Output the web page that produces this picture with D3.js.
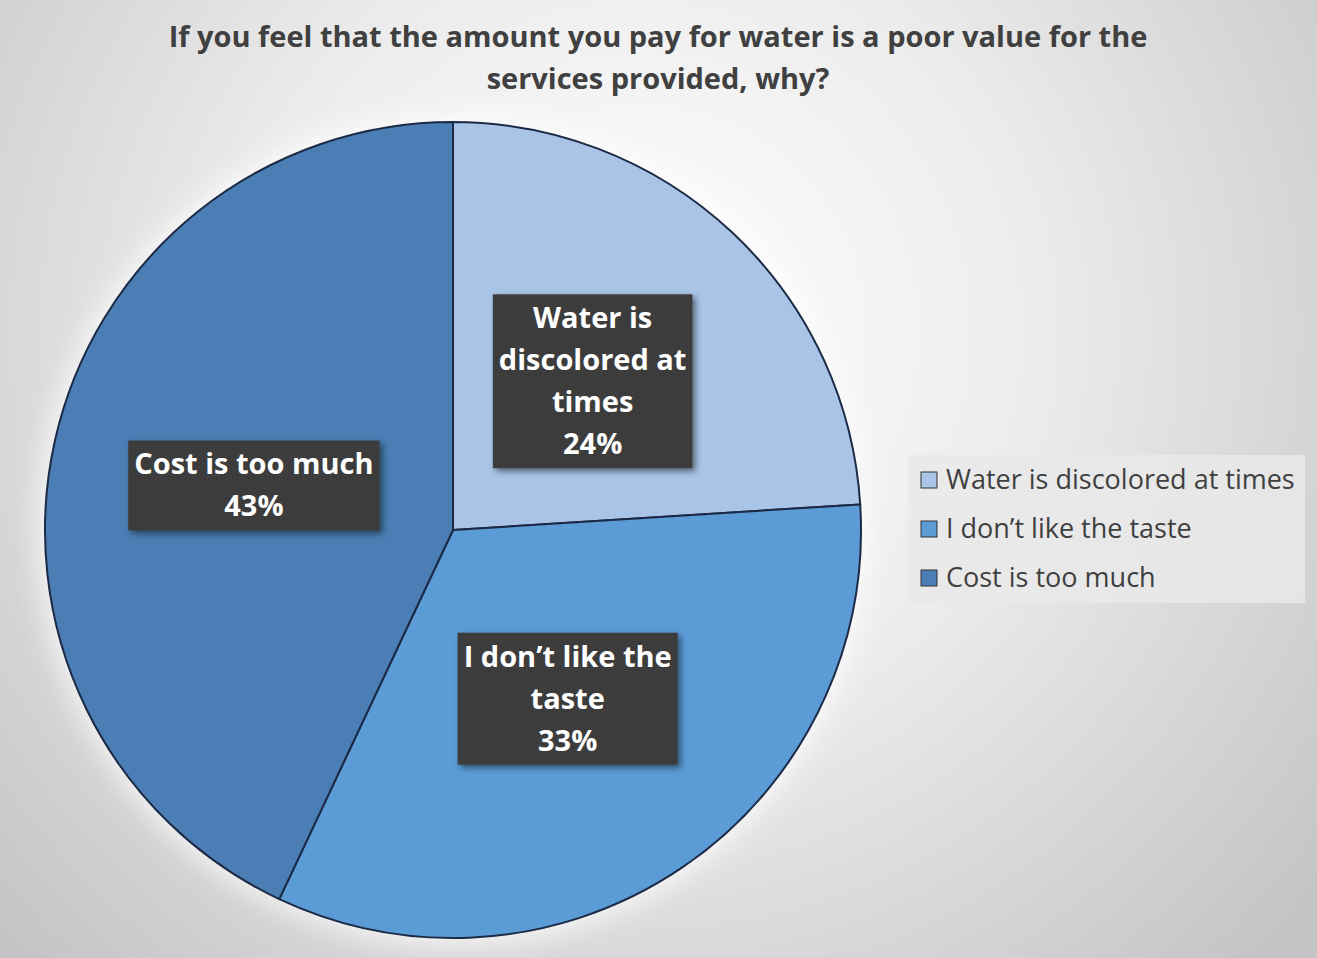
<!DOCTYPE html>
<html>
<head>
<meta charset="utf-8">
<script src="https://cdn.jsdelivr.net/npm/d3@7"></script>
<style>
  html, body { margin: 0; padding: 0; background: #fff; }
  svg { display: block; }
</style>
</head>
<body>
<svg id="chart" width="1317" height="958"></svg>
<script>
// Survey responses: why the water bill is a poor value
const categories = ["Water is discolored at times", "I don\u2019t like the taste", "Cost is too much"];
const shares = [24, 33, 43];
const sliceLabels = [
  ["Water is", "discolored at", "times"],
  ["I don\u2019t like the", "taste"],
  ["Cost is too much"]
];
const colors = ["#a9c4e6", "#5b9bd6", "#4a7eb4"];
const titleLines = [
  "If you feel that the amount you pay for water is a poor value for the",
  "services provided, why?"
];

const W = 1317, H = 958;
const FONT = "'Open Sans', Lato, sans-serif";
const svg = d3.select("#chart");
const defs = svg.append("defs");

// Background: soft radial gradient, light in the upper middle
const bg = defs.append("radialGradient")
  .attr("id", "bg").attr("gradientUnits", "userSpaceOnUse")
  .attr("cx", 640).attr("cy", 330).attr("r", 880);
bg.append("stop").attr("offset", "0%").attr("stop-color", "#ffffff");
bg.append("stop").attr("offset", "45%").attr("stop-color", "#ececec");
bg.append("stop").attr("offset", "100%").attr("stop-color", "#c4c4c4");
svg.append("rect").attr("width", W).attr("height", H).attr("fill", "url(#bg)");

// Drop shadow for the label boxes
const sh = defs.append("filter").attr("id", "shadow")
  .attr("x", "-20%").attr("y", "-20%").attr("width", "140%").attr("height", "140%");
sh.append("feGaussianBlur").attr("in", "SourceAlpha").attr("stdDeviation", 3).attr("result", "b");
sh.append("feOffset").attr("in", "b").attr("dx", 3).attr("dy", 3).attr("result", "o");
sh.append("feComponentTransfer").attr("in", "o").attr("result", "s")
  .append("feFuncA").attr("type", "linear").attr("slope", 0.5);
const m = sh.append("feMerge");
m.append("feMergeNode").attr("in", "s");
m.append("feMergeNode").attr("in", "SourceGraphic");

// Soft light halo around the pie
const glow = defs.append("filter").attr("id", "glow")
  .attr("x", "-20%").attr("y", "-20%").attr("width", "140%").attr("height", "140%");
glow.append("feGaussianBlur").attr("stdDeviation", 14);

// Fine dotted texture for the label boxes
const pat = defs.append("pattern").attr("id", "dots")
  .attr("patternUnits", "userSpaceOnUse").attr("width", 4).attr("height", 4);
pat.append("rect").attr("width", 4).attr("height", 4).attr("fill", "#3a3a3a");
pat.append("rect").attr("x", 1).attr("y", 1).attr("width", 1).attr("height", 1).attr("fill", "#4a4a4a");
pat.append("rect").attr("x", 3).attr("y", 3).attr("width", 1).attr("height", 1).attr("fill", "#454545");

// Title
svg.append("g").selectAll("text").data(titleLines).join("text")
  .attr("x", 658).attr("y", (d, i) => 47 + i * 42)
  .attr("text-anchor", "middle")
  .attr("font-family", FONT)
  .attr("font-weight", "bold").attr("font-size", 29)
  .attr("fill", "#404040")
  .text(d => d);

// Pie
const cx = 453, cy = 530, R = 408;
const pie = d3.pie().sort(null).value(d => d)(shares);
const arc = d3.arc().innerRadius(0).outerRadius(R);
const labelArc = d3.arc().innerRadius(R * 0.5).outerRadius(R * 0.5);

const g = svg.append("g").attr("transform", `translate(${cx},${cy})`);
g.append("circle").attr("r", R + 6).attr("fill", "#ffffff").attr("opacity", 0.8)
  .attr("filter", "url(#glow)");
g.selectAll("path.slice").data(pie).join("path")
  .attr("class", "slice")
  .attr("d", arc)
  .attr("fill", (d, i) => colors[i])
  .attr("stroke", "#1c2a45").attr("stroke-width", 2)
  .attr("stroke-linejoin", "round");

// Data labels: dark boxes with category and percentage
const lineH = 42;
const labels = g.selectAll("g.lab").data(pie).join("g")
  .attr("class", "lab")
  .attr("transform", d => `translate(${labelArc.centroid(d)})`);

labels.each(function (d, i) {
  const sel = d3.select(this);
  const lines = sliceLabels[i].concat([shares[i] + "%"]);
  const n = lines.length;
  const box = sel.append("rect").attr("fill", "url(#dots)").attr("filter", "url(#shadow)");
  const t = sel.append("text")
    .attr("text-anchor", "middle")
    .attr("font-family", FONT)
    .attr("font-weight", "bold").attr("font-size", 29)
    .attr("fill", "#ffffff");
  lines.forEach((ln, k) => {
    t.append("tspan").attr("x", 0)
      .attr("y", (k - (n - 1) / 2) * lineH + 10)
      .text(ln);
  });
  const bb = t.node().getBBox();
  const padX = 6, padY = 6;
  const bw = bb.width + padX * 2;
  const bh = n * lineH + padY;
  box.attr("x", -bw / 2).attr("y", -bh / 2).attr("width", bw).attr("height", bh);
});

// Legend
const lg = svg.append("g").attr("transform", "translate(908,455)");
lg.append("rect").attr("width", 397).attr("height", 148).attr("fill", "#e9e9e9").attr("opacity", 0.85);
const items = lg.selectAll("g").data(categories).join("g")
  .attr("transform", (d, i) => `translate(0,${25 + i * 49})`);
items.append("rect").attr("x", 13).attr("y", -8).attr("width", 16).attr("height", 16)
  .attr("fill", (d, i) => colors[i]).attr("stroke", "#333").attr("stroke-width", 1);
items.append("text").attr("x", 38).attr("y", 9)
  .attr("font-family", FONT)
  .attr("font-size", 27).attr("fill", "#404040")
  .text(d => d);
</script>
</body>
</html>
